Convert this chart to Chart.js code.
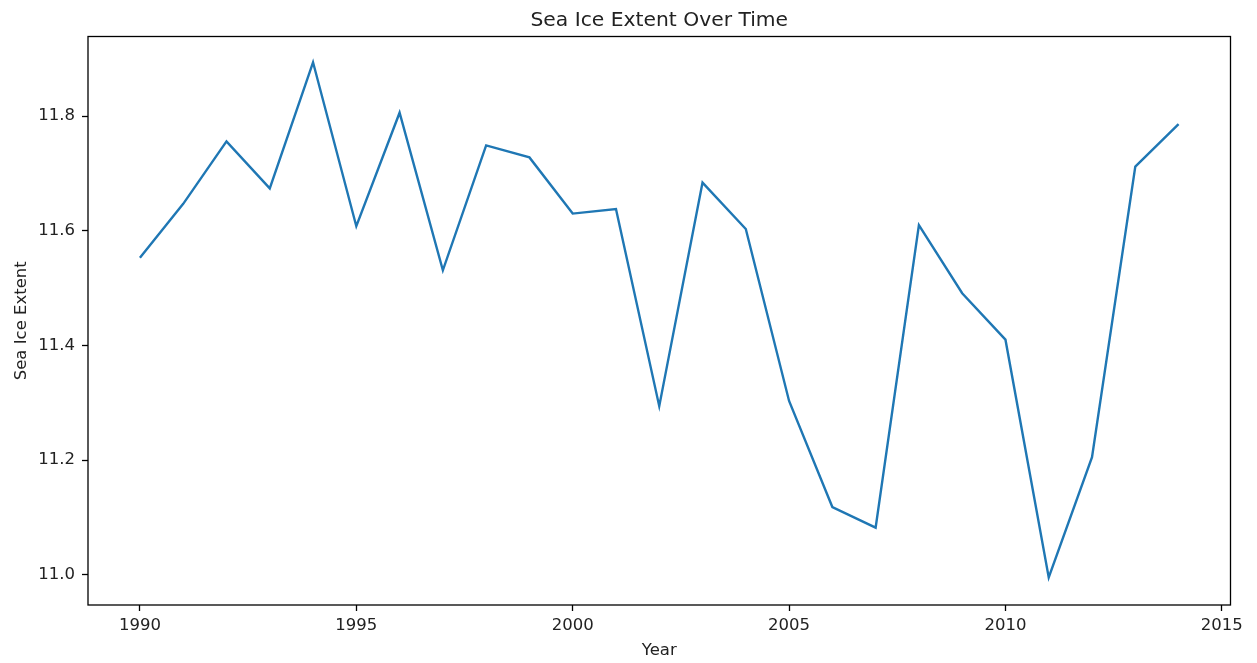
<!DOCTYPE html>
<html>
<head>
<meta charset="utf-8">
<title>Sea Ice Extent Over Time</title>
<script src="https://cdn.jsdelivr.net/npm/chart.js@4/dist/chart.umd.min.js"></script>
<style>
  html, body { margin: 0; padding: 0; background: #fff; }
  #wrap { width: 1257px; height: 663px; }
</style>
</head>
<body>
<div id="wrap"><canvas id="iceChart"></canvas></div>
<script>
// data
const years = [1990, 1991, 1992, 1993, 1994, 1995, 1996, 1997, 1998, 1999,
  2000, 2001, 2002, 2003, 2004, 2005, 2006, 2007, 2008, 2009,
  2010, 2011, 2012, 2013, 2014];
const seaIceExtent = [11.553, 11.647, 11.756, 11.674, 11.894, 11.608, 11.806, 11.531, 11.749, 11.728,
  11.630, 11.638, 11.294, 11.684, 11.603, 11.303, 11.118, 11.082, 11.610, 11.491,
  11.410, 10.995, 11.205, 11.712, 11.786];
const xTicks = [1990, 1995, 2000, 2005, 2010, 2015];
const yTicks = [11.0, 11.2, 11.4, 11.6, 11.8];
const chartTitle = 'Sea Ice Extent Over Time';

const font = 'DejaVu Sans';
const ink = '#222';

// full box around the plot + title centred over the plot area (matplotlib style)
const frame = {
  id: 'frame',
  afterDatasetsDraw(chart) {
    const a = chart.chartArea;
    const c = chart.ctx;
    c.save();
    c.strokeStyle = '#000';
    c.lineWidth = 1.3;
    c.strokeRect(a.left, a.top, a.right - a.left, a.bottom - a.top);
    c.fillStyle = ink;
    c.font = '20.3px "' + font + '"';
    c.textAlign = 'center';
    c.textBaseline = 'alphabetic';
    c.fillText(chartTitle, (a.left + a.right) / 2, 26);
    c.restore();
  }
};

const ctx = document.getElementById('iceChart');
new Chart(ctx, {
  type: 'line',
  data: {
    datasets: [{
      label: 'Sea Ice Extent',
      data: years.map((y, i) => ({ x: y, y: seaIceExtent[i] })),
      borderColor: '#1f77b4',
      borderWidth: 2.4,
      pointRadius: 0,
      tension: 0,
      fill: false
    }]
  },
  options: {
    responsive: true,
    maintainAspectRatio: false,
    animation: false,
    layout: { padding: { left: 0, top: 36.5, right: 26.5, bottom: 0 } },
    plugins: {
      legend: { display: false },
      tooltip: { enabled: false },
      title: { display: false }
    },
    scales: {
      x: {
        type: 'linear',
        min: 1988.8,
        max: 2015.2,
        afterBuildTicks: s => { s.ticks = xTicks.map(v => ({ value: v })); },
        afterFit: s => { s.height = 58; },
        border: { display: false },
        grid: { drawOnChartArea: false, drawTicks: true, tickLength: 6, tickColor: '#000', tickWidth: 1.3 },
        ticks: {
          color: ink,
          padding: 5,
          maxRotation: 0,
          font: { family: font, size: 16.5 },
          callback: v => String(v)
        },
        title: {
          display: true,
          text: 'Year',
          color: ink,
          font: { family: font, size: 16.5 },
          padding: { top: 4, bottom: 2 }
        }
      },
      y: {
        type: 'linear',
        min: 10.947,
        max: 11.939,
        afterBuildTicks: s => { s.ticks = yTicks.map(v => ({ value: v })); },
        afterFit: s => { s.width = 88; },
        border: { display: false },
        grid: { drawOnChartArea: false, drawTicks: true, tickLength: 6, tickColor: '#000', tickWidth: 1.3 },
        ticks: {
          color: ink,
          padding: 7,
          font: { family: font, size: 16.5 },
          callback: v => Number(v).toFixed(1)
        },
        title: {
          display: true,
          text: 'Sea Ice Extent',
          color: ink,
          font: { family: font, size: 16.5 },
          padding: { top: 12, bottom: 12 }
        }
      }
    }
  },
  plugins: [frame]
});
</script>
</body>
</html>
